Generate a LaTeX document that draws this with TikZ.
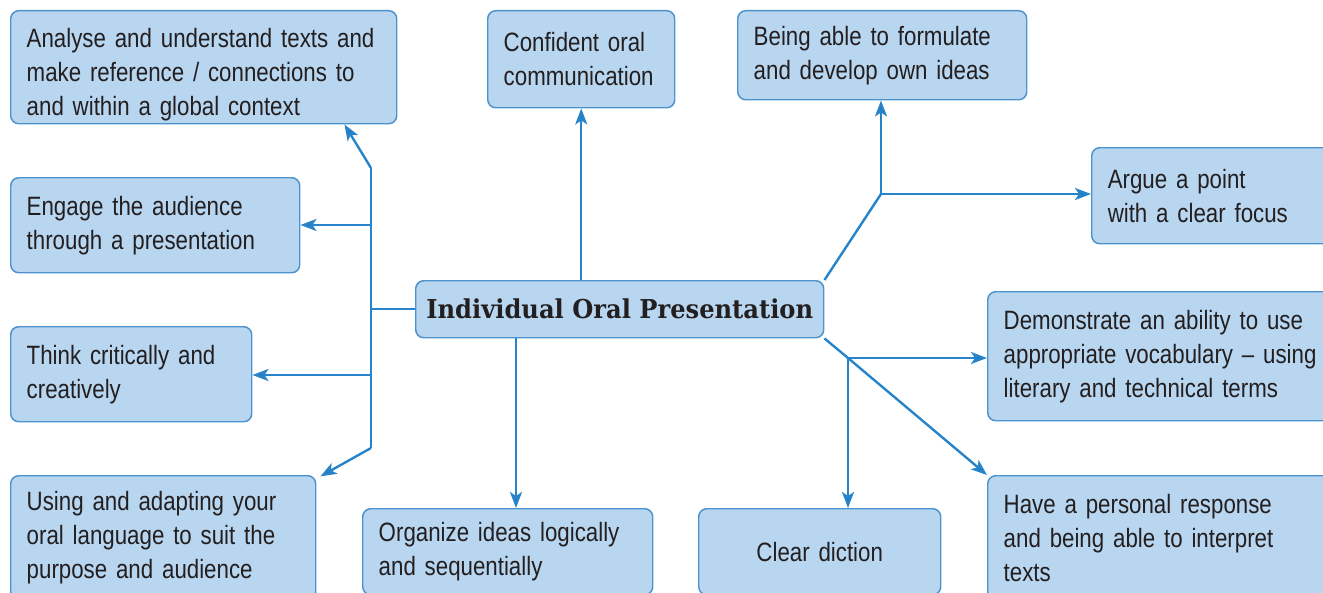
\documentclass[tikz,border=0pt]{standalone}
\usepackage{fontspec}
\setmainfont{Liberation Sans}[FakeStretch=0.84,WordSpace=0.85]
\newfontfamily\titlefont{DejaVu Serif}[FakeStretch=0.93]
\usetikzlibrary{arrows.meta}
\definecolor{boxfill}{RGB}{185,214,240}
\definecolor{boxline}{RGB}{76,146,204}
\definecolor{conncol}{RGB}{40,132,202}
\definecolor{tipcol}{RGB}{22,112,188}
\definecolor{txt}{RGB}{35,31,32}
\begin{document}
\begin{tikzpicture}[x=0.75pt,y=-0.75pt,
  box/.style={draw=boxline, fill=boxfill, line width=1.1pt, rounded corners=6pt,
    anchor=north west, inner xsep=12pt, inner ysep=0pt, align=left, text=txt,
    font=\fontsize{19.9}{25.5}\selectfont},
  conn/.style={draw=conncol, line width=1.8pt},
  arr/.style={conn, -{Stealth[length=12pt,width=9pt,inset=3pt,fill=tipcol]}}]
\useasboundingbox (0,0) rectangle (1323,592);
% nodes
\node[box, minimum width=289.5pt, minimum height=84.75pt, text width=265.5pt] (ana) at (10,10)
  {\rule{0pt}{25pt}Analyse and understand texts and\\make reference / connections to\\and within a global context};
\node[box, minimum width=216.75pt, minimum height=71.25pt, text width=192.75pt] (eng) at (10,177)
  {Engage the audience\\through a presentation};
\node[box, minimum width=180.75pt, minimum height=71.25pt, text width=156.75pt] (thi) at (10,326)
  {Think critically and\\creatively};
\node[box, minimum width=228.75pt, minimum height=93pt, text width=204.75pt] (usi) at (10,475)
  {Using and adapting your\\oral language to suit the\\purpose and audience};
\node[box, minimum width=217.5pt, minimum height=64.5pt, text width=193.5pt] (org) at (362,508)
  {Organize ideas logically\\and sequentially};
\node[box, minimum width=181.5pt, minimum height=64.5pt, text width=157.5pt, align=center] (cle) at (698,508)
  {Clear diction};
\node[box, minimum width=264.75pt, minimum height=93pt, text width=240.75pt] (hav) at (987,475)
  {Have a personal response\\and being able to interpret\\texts};
\node[box, minimum width=264.75pt, minimum height=96.75pt, text width=240.75pt] (dem) at (987,291)
  {Demonstrate an ability to use\\appropriate vocabulary -- using\\literary and technical terms};
\node[box, minimum width=186.75pt, minimum height=72pt, text width=162.75pt] (arg) at (1091,147)
  {Argue a point\\with a clear focus};
\node[box, minimum width=216.75pt, minimum height=66.75pt, text width=192.75pt] (bei) at (737,10)
  {Being able to formulate\\and develop own ideas};
\node[box, minimum width=140.25pt, minimum height=72.75pt, text width=116.25pt] (con) at (487,10)
  {Confident oral\\communication};
\node[box, minimum width=306pt, minimum height=42.75pt, align=center, inner xsep=0pt,
  font=\titlefont\bfseries\fontsize{19.5}{22}\selectfont] (cen) at (415,280)
  {Individual Oral Presentation};
% connectors
\coordinate (lt) at (371,168);
\coordinate (lb) at (371,448);
\coordinate (lm) at (cen.west -| lt);
\coordinate (le) at (371,225);
\coordinate (lth) at (371,375);
\draw[conn] (cen.west) -- (lm);
\draw[conn] (lt) -- (lb);
\draw[arr] (lt) -- ([xshift=-39.75pt]ana.south east);
\draw[arr] (le) -- (le -| eng.east);
\draw[arr] (lth) -- (lth -| thi.east);
\draw[arr] (lb) -- ([xshift=3pt,yshift=-1pt]usi.north east);
\draw[arr] (con.south |- cen.north) -- (con.south);
\coordinate (os) at ([xshift=75.75pt]cen.south west);
\draw[arr] (os) -- (os |- org.north);
\coordinate (ru) at (881,194);
\draw[conn] (cen.north east) -- (ru);
\draw[arr] (ru) -- (ru |- bei.south);
\draw[arr] (ru) -- (ru -| arg.west);
\coordinate (rl) at (848,358);
\draw[conn] (cen.south east) -- (rl);
\draw[arr] (rl) -- (rl -| dem.west);
\draw[arr] (rl) -- (rl |- cle.north);
\draw[arr] (rl) -- (hav.north west);
\end{tikzpicture}
\end{document}
